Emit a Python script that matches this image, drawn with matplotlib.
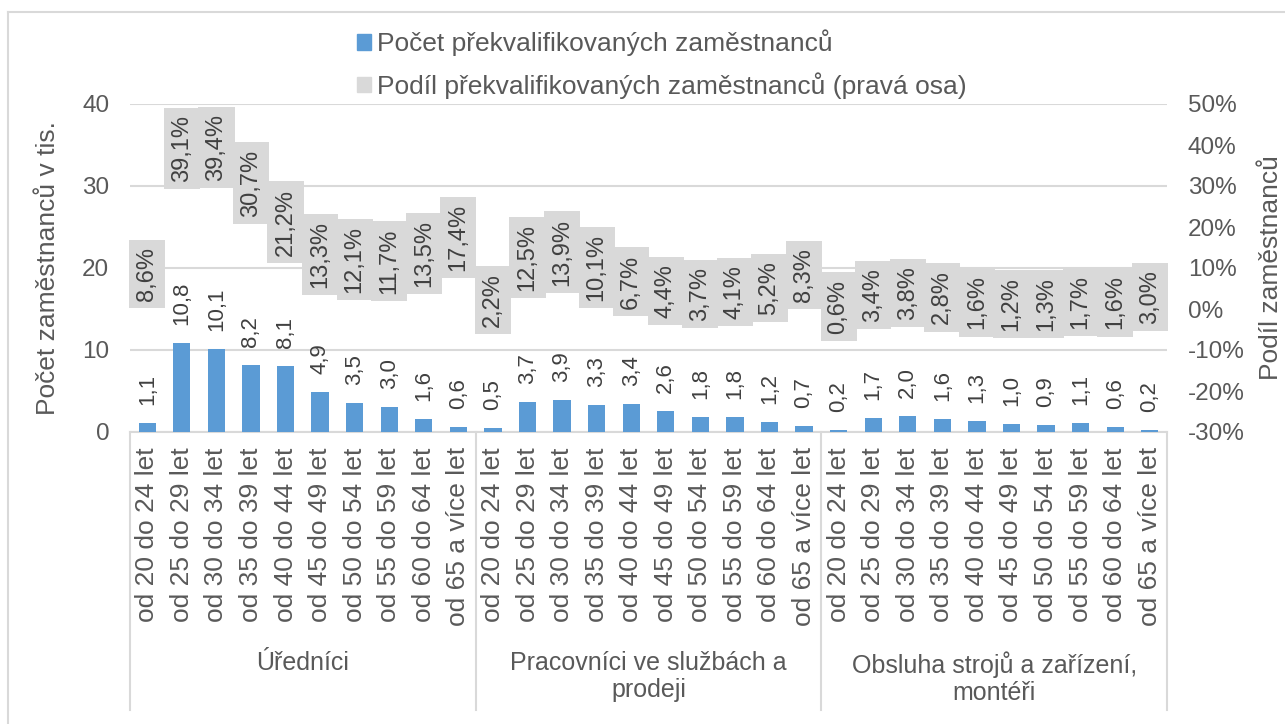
import matplotlib.pyplot as plt
from matplotlib.patches import Patch
from matplotlib.lines import Line2D
import matplotlib.transforms as mtransforms

plt.rcParams['font.family'] = ['Liberation Sans', 'DejaVu Sans']

# data
groups = ['Úředníci', 'Pracovníci ve službách a\nprodeji', 'Obsluha strojů a zařízení,\nmontéři']
ages = ['od 20 do 24 let', 'od 25 do 29 let', 'od 30 do 34 let', 'od 35 do 39 let',
        'od 40 do 44 let', 'od 45 do 49 let', 'od 50 do 54 let', 'od 55 do 59 let',
        'od 60 do 64 let', 'od 65 a více let']
count_ured = [1.1, 10.8, 10.1, 8.2, 8.1, 4.9, 3.5, 3.0, 1.6, 0.6]
count_prac = [0.5, 3.7, 3.9, 3.3, 3.4, 2.6, 1.8, 1.8, 1.2, 0.7]
count_obsl = [0.2, 1.7, 2.0, 1.6, 1.3, 1.0, 0.9, 1.1, 0.6, 0.2]
share_ured = [8.6, 39.1, 39.4, 30.7, 21.2, 13.3, 12.1, 11.7, 13.5, 17.4]
share_prac = [2.2, 12.5, 13.9, 10.1, 6.7, 4.4, 3.7, 4.1, 5.2, 8.3]
share_obsl = [0.6, 3.4, 3.8, 2.8, 1.6, 1.2, 1.3, 1.7, 1.6, 3.0]

counts = count_ured + count_prac + count_obsl
shares = share_ured + share_prac + share_obsl
labels = ages * 3
x = list(range(len(counts)))

BLUE = '#5b9bd5'
GRAY = '#d9d9d9'
TXT = '#595959'
DARK = '#404040'

fig = plt.figure(figsize=(12.85, 7.24), dpi=100)
W, H = 1285, 724
ax = fig.add_axes([130 / W, 1 - 432 / H, (1167 - 130) / W, (432 - 104) / H])
ax2 = ax.twinx()

# chart border (left and top visible)
fig.add_artist(Line2D([8 / W, 8 / W], [0, 1 - 12 / H], color=GRAY, lw=1.5))
fig.add_artist(Line2D([8 / W, 1], [1 - 12 / H, 1 - 12 / H], color=GRAY, lw=1.5))

bars = ax.bar(x, counts, width=0.5, color=BLUE, zorder=3)
ax.bar_label(bars, labels=[f'{v:.1f}'.replace('.', ',') for v in counts],
             rotation=90, padding=13, fontsize=16, color=DARK)

ax.set_ylim(0, 40)
ax.set_yticks([0, 10, 20, 30, 40])
ax.set_xlim(-0.5, len(x) - 0.5)
ax.grid(axis='y', color=GRAY, lw=1.5, zorder=0)
ax.set_axisbelow(True)
for s in ['top', 'left', 'right']:
    ax.spines[s].set_visible(False)
    ax2.spines[s].set_visible(False)
ax.spines['bottom'].set_color(GRAY)
ax.spines['bottom'].set_linewidth(1.5)
ax2.spines['bottom'].set_visible(False)

ax.set_xticks(x)
ax.set_xticklabels(labels, rotation=90, fontsize=19, color=TXT, va='top')
ax.tick_params(axis='x', length=0, pad=11)
ax.tick_params(axis='y', length=0, pad=15, labelsize=17.5, labelcolor=TXT)
ax.set_ylabel('Počet zaměstnanců v tis.', fontsize=19, color=TXT, labelpad=16)

# share series: only data labels in gray boxes
ax2.set_ylim(-30, 50)
ax2.set_yticks(range(-30, 51, 10))
ax2.set_yticklabels([f'{t}%' for t in range(-30, 51, 10)])
ax2.tick_params(axis='y', length=0, pad=15, labelsize=17.5, labelcolor=TXT)
ax2.set_ylabel('Podíl zaměstnanců', fontsize=19, color=TXT, rotation=90, labelpad=10)
for xi, s in zip(x, shares):
    ax2.text(xi, s, f'{s:.1f}%'.replace('.', ','), rotation=90, ha='center', va='center',
             fontsize=17, color=DARK, zorder=4,
             bbox=dict(boxstyle='square,pad=0.3', fc=GRAY, ec='none'))

# group separators and group labels
trans = mtransforms.blended_transform_factory(ax.transData, ax.transAxes)
bot = -(710 - 432) / (432 - 104)
for b in [-0.5, 9.5, 19.5, 29.5]:
    ax.add_line(Line2D([b, b], [0, bot], transform=trans, color=GRAY, lw=1.5, clip_on=False))
for i, g in enumerate(groups):
    ax.text(i * 10 + 4.5, -(651 - 432) / (432 - 104), g, transform=trans, ha='center', va='top',
            fontsize=18, color=TXT, linespacing=1.15)

handles = [Patch(color=BLUE), Patch(color=GRAY)]
fig.legend(handles, ['Počet překvalifikovaných zaměstnanců',
                     'Podíl překvalifikovaných zaměstnanců (pravá osa)'],
           loc='upper left', bbox_to_anchor=(333 / W, 1 - 6 / H), frameon=False,
           fontsize=19, labelcolor=TXT, handlelength=0.53, handleheight=0.53,
           handletextpad=0.23, labelspacing=0.6)

fig.savefig('out.png', dpi=100)
